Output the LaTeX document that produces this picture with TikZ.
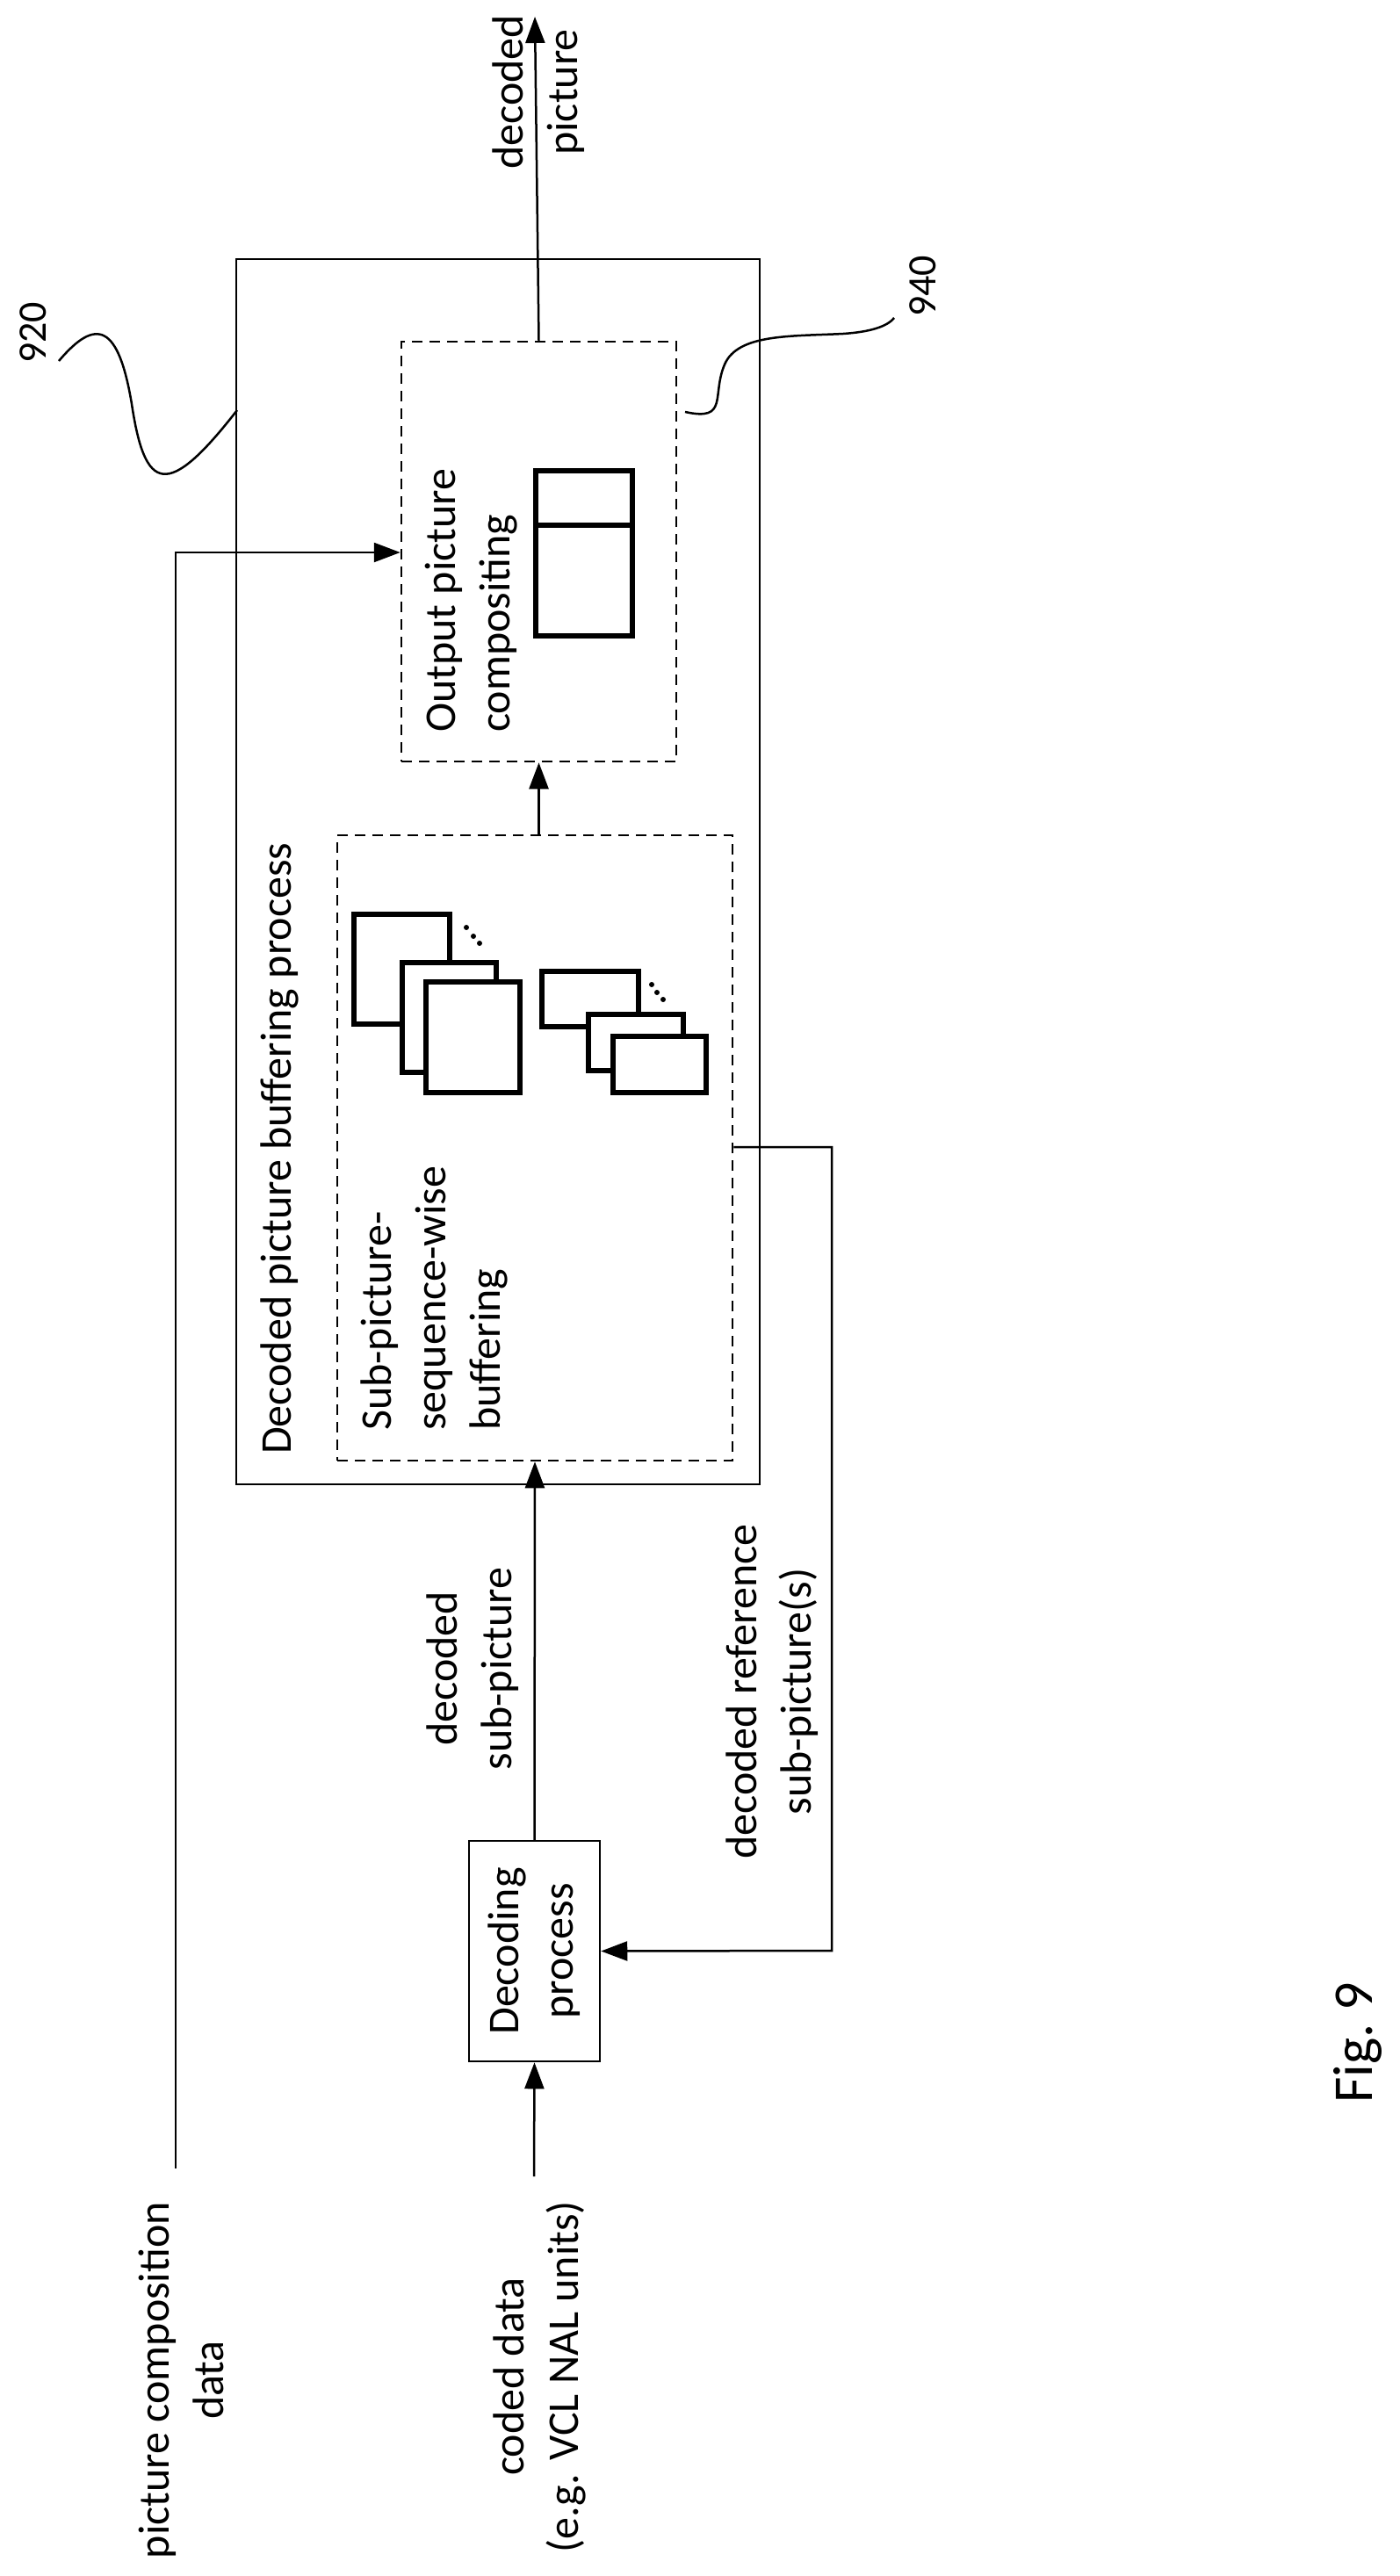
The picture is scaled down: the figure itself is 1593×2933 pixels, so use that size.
\documentclass[tikz,border=0pt]{standalone}
\usepackage{fontspec}
\setmainfont{Carlito}
\usetikzlibrary{arrows.meta}
\begin{document}
\begin{tikzpicture}[x=1pt,y=-1pt,
  line width=2.5pt,
  arr/.style={-{Triangle[length=30pt,width=22pt]}},
  lbl/.style={rotate=90,align=center,font=\fontsize{50}{62}\selectfont,inner sep=0pt},
  dsh/.style={dash pattern=on 12pt off 8pt},
  icon/.style={line width=6pt,fill=white}]
\useasboundingbox (0,0) rectangle (1593,2933);
% boxes
\node[draw,minimum width=596pt,minimum height=1395pt,inner sep=0pt] (outer) at (567,992.5) {};
\node[draw,dsh,minimum width=313pt,minimum height=478pt,inner sep=0pt] (out) at (613.5,628) {};
\node[draw,dsh,minimum width=450pt,minimum height=712pt,inner sep=0pt] (buf) at (609,1307) {};
\node[draw,minimum width=149pt,minimum height=251pt,inner sep=0pt] (dec) at (608.5,2221.5) {};
% texts
\node[lbl] (tDec) at (dec.center) {Decoding\\process};
\node[lbl,anchor=west,align=left] (tOut) at (537,835) {Output picture\\compositing};
\node[lbl,anchor=west] (tBuf) at (318,1657) {Decoded picture buffering process};
\node[lbl,anchor=west,align=left] (tSub) at (494,1630) {Sub-picture-\\sequence-wise\\buffering};
\node[lbl] (tDP) at (613,105) {decoded\\picture};
\node[lbl] (tDSP) at (538,1900) {decoded\\sub-picture};
\node[lbl] (tDRS) at (879,1926) {decoded reference\\sub-picture(s)};
\node[lbl] (tPCD) at (206,2710) {picture composition\\data};
\node[lbl] (tCD) at (614,2706) {coded data\\(e.g. VCL NAL units)};
\node[lbl,font=\fontsize{64}{70}\selectfont] (fig) at (1546,2326) {Fig.\ 9};
\node[lbl,font=\fontsize{46}{50}\selectfont] (n920) at (38,379) {920};
\node[lbl,font=\fontsize{46}{50}\selectfont] (n940) at (1051,326) {940};
% icon in output box
\draw[icon] (610,536) rectangle (720,724);
\draw[line width=6pt] (610,598) -- (720,598);
% stacked icons
\draw[icon] (403,1041) rectangle (512,1166);
\draw[icon] (458,1096) rectangle (565,1221);
\draw[icon] (485,1118) rectangle (592,1244);
\draw[icon] (617,1106) rectangle (727,1169);
\draw[icon] (670,1155) rectangle (778,1219);
\draw[icon] (698,1180) rectangle (804,1244);
\foreach \p in {(531,1056),(539,1066),(546,1074),(742,1121),(748,1130),(755,1138)}
  \fill \p circle (3pt);
% connectors
\coordinate (top) at (609,19);
\draw[arr] (out.north) -- (top);
\draw[arr] (buf.north -| out.south) -- (out.south);
\draw[arr] (dec.north) -- (buf.south);
\coordinate (cdIn) at (608,2478);
\draw[arr] (cdIn) -- (dec.south);
\coordinate (pcIn) at (200,2469);
\coordinate (pcTurn) at (200,629);
\draw[arr] (pcIn) -- (pcTurn) -- (pcTurn -| out.west);
\coordinate (fb1) at (947,1306);
\coordinate (fb2) at (947,2221);
\draw[arr] (fb1 -| buf.east) -- (fb1) -- (fb2) -- (dec.east);
% leader curves
\coordinate (c920a) at (67,411);
\coordinate (c920b) at (270,467);
\draw (c920a) .. controls (110,360) and (135,370) .. (150,460) .. controls (165,560) and (190,570) .. (c920b);
\coordinate (c940a) at (780,469);
\coordinate (c940b) at (1018,362);
\draw (c940a) .. controls (830,480) and (810,450) .. (825,415) .. controls (840,380) and (900,383) .. (960,380) .. controls (990,378) and (1010,372) .. (c940b);
\end{tikzpicture}
\end{document}
